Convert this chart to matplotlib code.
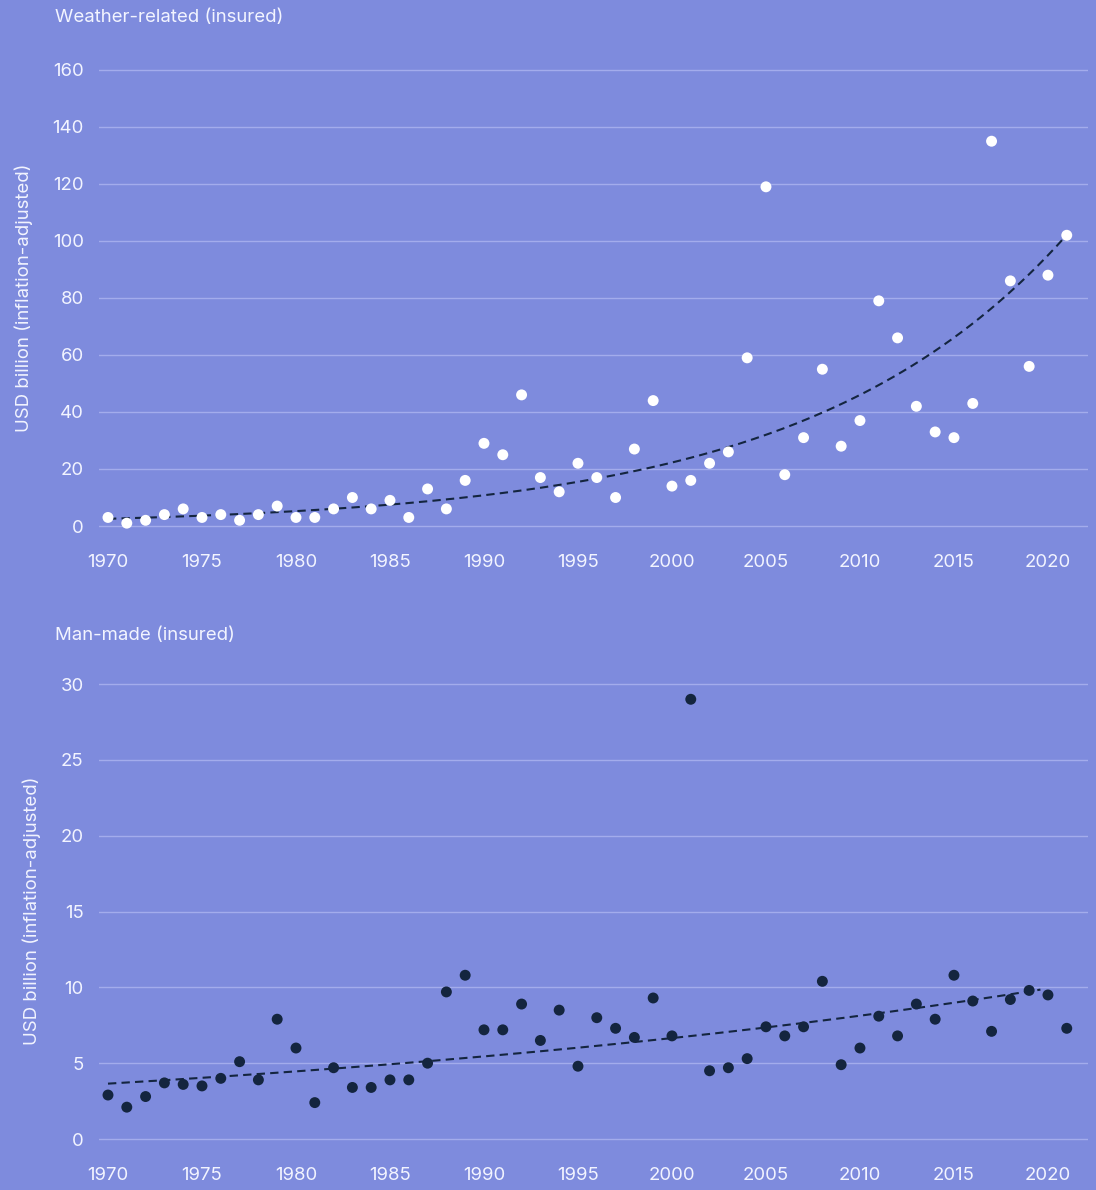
import numpy as np
import matplotlib.pyplot as plt

years = list(range(1970, 2022))

weather_insured = [
    3, 1, 2, 4, 6, 3, 4, 2, 4, 7,
    3, 3, 6, 10, 6, 9, 3, 13, 6, 16,
    29, 25, 46, 17, 12, 22, 17, 10, 27, 44,
    14, 16, 22, 26, 59, 119, 18, 31, 55, 28,
    37, 79, 66, 42, 33, 31, 43, 135, 86, 56,
    88, 102,
]

manmade_insured = [
    2.9, 2.1, 2.8, 3.7, 3.6, 3.5, 4.0, 5.1, 3.9, 7.9,
    6.0, 2.4, 4.7, 3.4, 3.4, 3.9, 3.9, 5.0, 9.7, 10.8,
    7.2, 7.2, 8.9, 6.5, 8.5, 4.8, 8.0, 7.3, 6.7, 9.3,
    6.8, 29.0, 4.5, 4.7, 5.3, 7.4, 6.8, 7.4, 10.4, 4.9,
    6.0, 8.1, 6.8, 8.9, 7.9, 10.8, 9.1, 7.1, 9.2, 9.8,
    9.5, 7.3,
]

weather_ticks = [0, 20, 40, 60, 80, 100, 120, 140, 160]
manmade_ticks = [0, 5, 10, 15, 20, 25, 30]
year_ticks = [1970, 1975, 1980, 1985, 1990, 1995, 2000, 2005, 2010, 2015, 2020]

BG = "#7e8bdd"
TEXT = "#f2f4ff"
GRID = "#a3acec"
NAVY = "#14253f"
FS = 13.4

plt.rcParams["font.family"] = ["Inter", "DejaVu Sans"]


def exp_trend(x, y, x_end):
    # log-linear least-squares fit drawn over the data range
    x = np.asarray(x, dtype=float)
    k, b = np.polyfit(x, np.log(np.asarray(y, dtype=float)), 1)
    xs = np.linspace(x[0], x_end, 200)
    return xs, np.exp(k * xs + b)


def style_axis(ax, ticks, ylim, label):
    ax.set_facecolor(BG)
    for s in ax.spines.values():
        s.set_visible(False)
    ax.set_xlim(1969.52, 2022.13)
    ax.set_ylim(*ylim)
    ax.set_yticks(ticks)
    ax.set_xticks(year_ticks)
    ax.tick_params(length=0, colors=TEXT, labelsize=FS)
    ax.tick_params(axis="y", pad=11)
    ax.tick_params(axis="x", pad=12)
    ax.grid(axis="y", color=GRID, linewidth=1)
    ax.set_axisbelow(True)
    ax.set_ylabel(label, color=TEXT, fontsize=FS, labelpad=14)


fig = plt.figure(figsize=(10.96, 11.9), dpi=100, facecolor=BG)

ax1 = fig.add_axes([0.0903, 0.5484, 0.9024, 0.4024])
style_axis(ax1, weather_ticks, (-4, 164), "USD billion (inflation-adjusted)")
tx, ty = exp_trend(years, weather_insured, 2021)
ax1.plot(tx, ty, color=NAVY, lw=1.5, linestyle=(0, (4, 2.5)), zorder=2)
ax1.scatter(years, weather_insured, s=62, color="white", edgecolors="none", zorder=3)

ax2 = fig.add_axes([0.0903, 0.0333, 0.9024, 0.4020])
style_axis(ax2, manmade_ticks, (-0.75, 30.8), "USD billion (inflation-adjusted)")
tx, ty = exp_trend(years, manmade_insured, 2019.6)
ax2.plot(tx, ty, color=NAVY, lw=1.5, linestyle=(0, (4, 2.5)), zorder=2)
ax2.scatter(years, manmade_insured, s=62, color=NAVY, edgecolors="none", zorder=3)

fig.text(0.05, 1 - 17 / 1190, "Weather-related (insured)", color=TEXT,
         fontsize=FS, va="center", ha="left")
fig.text(0.05, 1 - 636 / 1190, "Man-made (insured)", color=TEXT,
         fontsize=FS, va="center", ha="left")

fig.savefig("out.png", dpi=100, facecolor=BG)
